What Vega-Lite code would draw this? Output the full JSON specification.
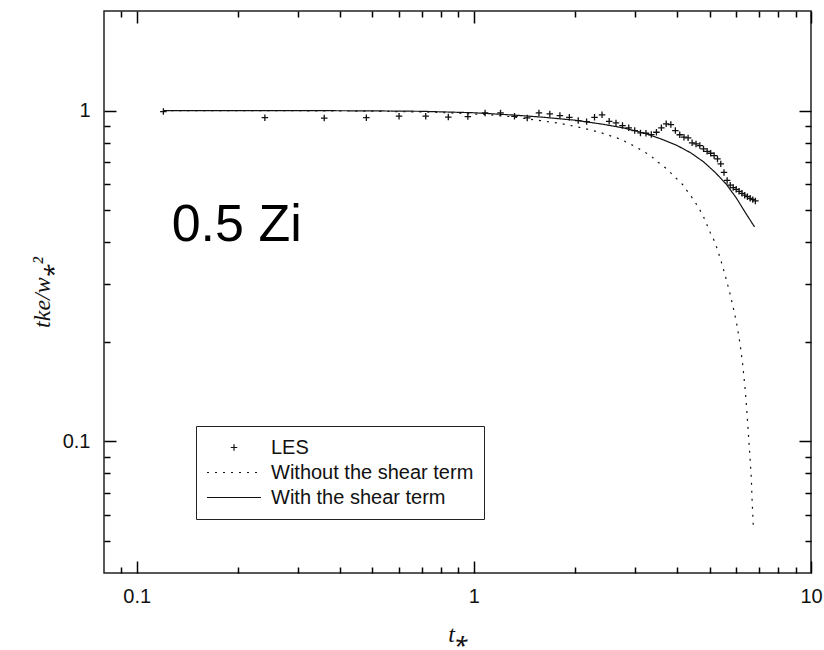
{
  "$schema": "https://vega.github.io/schema/vega-lite/v6.json",
  "width": 707,
  "height": 562,
  "autosize": {"type": "none"},
  "padding": {"left": 104, "top": 11, "right": 13, "bottom": 77},
  "background": "white",
  "config": {
    "view": {"stroke": "#222", "strokeWidth": 1.5},
    "axis": {
      "grid": false,
      "domain": false,
      "ticks": true,
      "tickColor": "#000",
      "tickWidth": 1.5,
      "labelFont": "Liberation Sans",
      "labelFontSize": 20,
      "labelColor": "#111",
      "titleFont": "Liberation Serif",
      "titleFontStyle": "italic",
      "titleFontWeight": "normal",
      "titleFontSize": 24,
      "titleColor": "#111",
      "labelFlush": false,
      "labelOverlap": false
    }
  },
  "resolve": {"axis": {"x": "independent", "y": "independent"}},
  "layer": [
    {
      "data": {"values": [
        {"t": 0.12, "v": 1.0, "series": "With the shear term"},
        {"t": 0.3, "v": 1.0, "series": "With the shear term"},
        {"t": 0.5, "v": 0.998, "series": "With the shear term"},
        {"t": 0.7, "v": 0.995, "series": "With the shear term"},
        {"t": 1.0, "v": 0.985, "series": "With the shear term"},
        {"t": 1.3, "v": 0.97, "series": "With the shear term"},
        {"t": 1.6, "v": 0.955, "series": "With the shear term"},
        {"t": 2.0, "v": 0.935, "series": "With the shear term"},
        {"t": 2.4, "v": 0.91, "series": "With the shear term"},
        {"t": 2.8, "v": 0.885, "series": "With the shear term"},
        {"t": 3.2, "v": 0.855, "series": "With the shear term"},
        {"t": 3.6, "v": 0.82, "series": "With the shear term"},
        {"t": 4.0, "v": 0.785, "series": "With the shear term"},
        {"t": 4.4, "v": 0.745, "series": "With the shear term"},
        {"t": 4.8, "v": 0.7, "series": "With the shear term"},
        {"t": 5.2, "v": 0.65, "series": "With the shear term"},
        {"t": 5.6, "v": 0.6, "series": "With the shear term"},
        {"t": 6.0, "v": 0.545, "series": "With the shear term"},
        {"t": 6.4, "v": 0.49, "series": "With the shear term"},
        {"t": 6.8, "v": 0.445, "series": "With the shear term"}
      ]},
      "mark": {"type": "line", "color": "#111", "strokeWidth": 1.2},
      "encoding": {
        "x": {"field": "t", "type": "quantitative", "scale": {"type": "log", "domain": [0.08, 10], "nice": false, "zero": false},
          "axis": {"orient": "bottom", "values": [0.1, 1, 10], "tickSize": 12, "offset": -12, "format": "~g", "labelPadding": 13, "title": "t⁎", "titlePadding": 16}},
        "y": {"field": "v", "type": "quantitative", "scale": {"type": "log", "domain": [0.04, 2], "nice": false, "zero": false},
          "axis": {"orient": "left", "values": [0.1, 1], "tickSize": 12, "offset": -12, "format": "~g", "labelPadding": 14, "title": "tke/w⁎²", "titlePadding": 8}},
        "strokeDash": {"field": "series", "type": "nominal",
          "scale": {"domain": ["LES", "Without the shear term", "With the shear term"], "range": [[1, 0], [2, 6], [1, 0]]},
          "legend": {"orient": "none", "legendX": 92, "legendY": 415, "title": null, "strokeColor": "#222", "padding": 10, "fillColor": "white",
            "labelFont": "Liberation Sans", "labelFontSize": 20, "labelColor": "#111", "labelOffset": 9, "labelLimit": 400,
            "symbolSize": 2916, "symbolStrokeWidth": 1.2, "symbolStrokeColor": "#111", "symbolFillColor": "transparent",
            "clipHeight": 23, "rowPadding": 2}}
      }
    },
    {
      "data": {"values": [
        {"t": 0.12, "v": 1.0, "series": "Without the shear term"},
        {"t": 0.3, "v": 0.999, "series": "Without the shear term"},
        {"t": 0.5, "v": 0.996, "series": "Without the shear term"},
        {"t": 0.7, "v": 0.99, "series": "Without the shear term"},
        {"t": 0.9, "v": 0.982, "series": "Without the shear term"},
        {"t": 1.1, "v": 0.972, "series": "Without the shear term"},
        {"t": 1.3, "v": 0.958, "series": "Without the shear term"},
        {"t": 1.57, "v": 0.933, "series": "Without the shear term"},
        {"t": 1.8, "v": 0.915, "series": "Without the shear term"},
        {"t": 2.06, "v": 0.89, "series": "Without the shear term"},
        {"t": 2.36, "v": 0.86, "series": "Without the shear term"},
        {"t": 2.71, "v": 0.821, "series": "Without the shear term"},
        {"t": 2.97, "v": 0.784, "series": "Without the shear term"},
        {"t": 3.16, "v": 0.757, "series": "Without the shear term"},
        {"t": 3.34, "v": 0.731, "series": "Without the shear term"},
        {"t": 3.52, "v": 0.698, "series": "Without the shear term"},
        {"t": 3.73, "v": 0.667, "series": "Without the shear term"},
        {"t": 3.95, "v": 0.629, "series": "Without the shear term"},
        {"t": 4.16, "v": 0.598, "series": "Without the shear term"},
        {"t": 4.32, "v": 0.566, "series": "Without the shear term"},
        {"t": 4.5, "v": 0.535, "series": "Without the shear term"},
        {"t": 4.66, "v": 0.505, "series": "Without the shear term"},
        {"t": 4.79, "v": 0.48, "series": "Without the shear term"},
        {"t": 5.02, "v": 0.429, "series": "Without the shear term"},
        {"t": 5.19, "v": 0.4, "series": "Without the shear term"},
        {"t": 5.37, "v": 0.36, "series": "Without the shear term"},
        {"t": 5.55, "v": 0.321, "series": "Without the shear term"},
        {"t": 5.74, "v": 0.282, "series": "Without the shear term"},
        {"t": 5.88, "v": 0.254, "series": "Without the shear term"},
        {"t": 6.02, "v": 0.227, "series": "Without the shear term"},
        {"t": 6.16, "v": 0.197, "series": "Without the shear term"},
        {"t": 6.27, "v": 0.171, "series": "Without the shear term"},
        {"t": 6.37, "v": 0.146, "series": "Without the shear term"},
        {"t": 6.44, "v": 0.127, "series": "Without the shear term"},
        {"t": 6.51, "v": 0.108, "series": "Without the shear term"},
        {"t": 6.58, "v": 0.092, "series": "Without the shear term"},
        {"t": 6.65, "v": 0.078, "series": "Without the shear term"},
        {"t": 6.69, "v": 0.066, "series": "Without the shear term"},
        {"t": 6.74, "v": 0.056, "series": "Without the shear term"}
      ]},
      "mark": {"type": "line", "color": "#111", "strokeWidth": 1.2},
      "encoding": {
        "x": {"field": "t", "type": "quantitative", "scale": {"type": "log", "domain": [0.08, 10], "nice": false, "zero": false},
          "axis": {"orient": "bottom", "values": [0.09, 0.2, 0.3, 0.4, 0.5, 0.6, 0.7, 0.8, 0.9, 2, 3, 4, 5, 6, 7, 8, 9], "tickSize": 6, "offset": -6, "labels": false, "title": null}},
        "y": {"field": "v", "type": "quantitative", "scale": {"type": "log", "domain": [0.04, 2], "nice": false, "zero": false},
          "axis": {"orient": "left", "values": [0.05, 0.06, 0.07, 0.08, 0.09, 0.2, 0.3, 0.4, 0.5, 0.6, 0.7, 0.8, 0.9], "tickSize": 6, "offset": -6, "labels": false, "title": null}},
        "strokeDash": {"field": "series", "type": "nominal",
          "scale": {"domain": ["LES", "Without the shear term", "With the shear term"], "range": [[1, 0], [2, 6], [1, 0]]},
          "legend": {"orient": "none", "legendX": 92, "legendY": 415, "title": null, "strokeColor": "#222", "padding": 10, "fillColor": "white",
            "labelFont": "Liberation Sans", "labelFontSize": 20, "labelColor": "#111", "labelOffset": 9, "labelLimit": 400,
            "symbolSize": 2916, "symbolStrokeWidth": 1.2, "symbolStrokeColor": "#111", "symbolFillColor": "transparent",
            "clipHeight": 23, "rowPadding": 2}}
      }
    },
    {
      "data": {"values": [
        {"t": 0.12, "v": 0.993, "series": "LES"},
        {"t": 0.24, "v": 0.952, "series": "LES"},
        {"t": 0.36, "v": 0.949, "series": "LES"},
        {"t": 0.48, "v": 0.952, "series": "LES"},
        {"t": 0.6, "v": 0.962, "series": "LES"},
        {"t": 0.72, "v": 0.962, "series": "LES"},
        {"t": 0.84, "v": 0.956, "series": "LES"},
        {"t": 0.96, "v": 0.959, "series": "LES"},
        {"t": 1.08, "v": 0.984, "series": "LES"},
        {"t": 1.2, "v": 0.984, "series": "LES"},
        {"t": 1.32, "v": 0.961, "series": "LES"},
        {"t": 1.44, "v": 0.95, "series": "LES"},
        {"t": 1.56, "v": 0.984, "series": "LES"},
        {"t": 1.68, "v": 0.977, "series": "LES"},
        {"t": 1.8, "v": 0.966, "series": "LES"},
        {"t": 1.92, "v": 0.954, "series": "LES"},
        {"t": 2.04, "v": 0.933, "series": "LES"},
        {"t": 2.16, "v": 0.926, "series": "LES"},
        {"t": 2.28, "v": 0.954, "series": "LES"},
        {"t": 2.4, "v": 0.971, "series": "LES"},
        {"t": 2.52, "v": 0.928, "series": "LES"},
        {"t": 2.64, "v": 0.918, "series": "LES"},
        {"t": 2.76, "v": 0.901, "series": "LES"},
        {"t": 2.88, "v": 0.887, "series": "LES"},
        {"t": 3.0, "v": 0.87, "series": "LES"},
        {"t": 3.12, "v": 0.856, "series": "LES"},
        {"t": 3.24, "v": 0.854, "series": "LES"},
        {"t": 3.36, "v": 0.846, "series": "LES"},
        {"t": 3.48, "v": 0.86, "series": "LES"},
        {"t": 3.6, "v": 0.887, "series": "LES"},
        {"t": 3.72, "v": 0.912, "series": "LES"},
        {"t": 3.84, "v": 0.907, "series": "LES"},
        {"t": 3.96, "v": 0.87, "series": "LES"},
        {"t": 4.08, "v": 0.845, "series": "LES"},
        {"t": 4.2, "v": 0.831, "series": "LES"},
        {"t": 4.32, "v": 0.827, "series": "LES"},
        {"t": 4.44, "v": 0.799, "series": "LES"},
        {"t": 4.56, "v": 0.793, "series": "LES"},
        {"t": 4.68, "v": 0.784, "series": "LES"},
        {"t": 4.8, "v": 0.766, "series": "LES"},
        {"t": 4.92, "v": 0.753, "series": "LES"},
        {"t": 5.04, "v": 0.743, "series": "LES"},
        {"t": 5.16, "v": 0.731, "series": "LES"},
        {"t": 5.28, "v": 0.714, "series": "LES"},
        {"t": 5.4, "v": 0.69, "series": "LES"},
        {"t": 5.52, "v": 0.65, "series": "LES"},
        {"t": 5.64, "v": 0.615, "series": "LES"},
        {"t": 5.76, "v": 0.595, "series": "LES"},
        {"t": 5.88, "v": 0.585, "series": "LES"},
        {"t": 6.0, "v": 0.578, "series": "LES"},
        {"t": 6.12, "v": 0.57, "series": "LES"},
        {"t": 6.24, "v": 0.562, "series": "LES"},
        {"t": 6.36, "v": 0.555, "series": "LES"},
        {"t": 6.48, "v": 0.549, "series": "LES"},
        {"t": 6.6, "v": 0.543, "series": "LES"},
        {"t": 6.72, "v": 0.538, "series": "LES"},
        {"t": 6.84, "v": 0.533, "series": "LES"}
      ]},
      "mark": {"type": "point", "filled": false, "opacity": 1, "size": 2916, "color": "#111", "strokeWidth": 1.3},
      "encoding": {
        "x": {"field": "t", "type": "quantitative", "scale": {"type": "log", "domain": [0.08, 10], "nice": false, "zero": false},
          "axis": {"orient": "top", "values": [0.1, 1, 10], "tickSize": 12, "offset": -12, "labels": false, "title": null}},
        "y": {"field": "v", "type": "quantitative", "scale": {"type": "log", "domain": [0.04, 2], "nice": false, "zero": false},
          "axis": {"orient": "right", "values": [0.1, 1], "tickSize": 12, "offset": -12, "labels": false, "title": null}},
        "shape": {"field": "series", "type": "nominal",
          "scale": {"domain": ["LES", "Without the shear term", "With the shear term"], "range": ["M-0.12,0H0.12M0,-0.12V0.12", "M-1,0H1", "M-1,0H1"]},
          "legend": {"orient": "none", "legendX": 92, "legendY": 415, "title": null, "strokeColor": "#222", "padding": 10, "fillColor": "white",
            "labelFont": "Liberation Sans", "labelFontSize": 20, "labelColor": "#111", "labelOffset": 9, "labelLimit": 400,
            "symbolSize": 2916, "symbolStrokeWidth": 1.2, "symbolStrokeColor": "#111", "symbolFillColor": "transparent",
            "clipHeight": 23, "rowPadding": 2}}
      }
    },
    {
      "data": {"values": [{"t": 0.127, "v": 0.402, "label": "0.5 Zi"}]},
      "mark": {"type": "text", "align": "left", "baseline": "alphabetic", "font": "Liberation Sans", "fontSize": 52, "color": "#000"},
      "encoding": {
        "x": {"field": "t", "type": "quantitative", "scale": {"type": "log", "domain": [0.08, 10], "nice": false, "zero": false},
          "axis": {"orient": "top", "values": [0.09, 0.2, 0.3, 0.4, 0.5, 0.6, 0.7, 0.8, 0.9, 2, 3, 4, 5, 6, 7, 8, 9], "tickSize": 6, "offset": -6, "labels": false, "title": null}},
        "y": {"field": "v", "type": "quantitative", "scale": {"type": "log", "domain": [0.04, 2], "nice": false, "zero": false},
          "axis": {"orient": "right", "values": [0.05, 0.06, 0.07, 0.08, 0.09, 0.2, 0.3, 0.4, 0.5, 0.6, 0.7, 0.8, 0.9], "tickSize": 6, "offset": -6, "labels": false, "title": null}},
        "text": {"field": "label", "type": "nominal"}
      }
    }
  ]
}
